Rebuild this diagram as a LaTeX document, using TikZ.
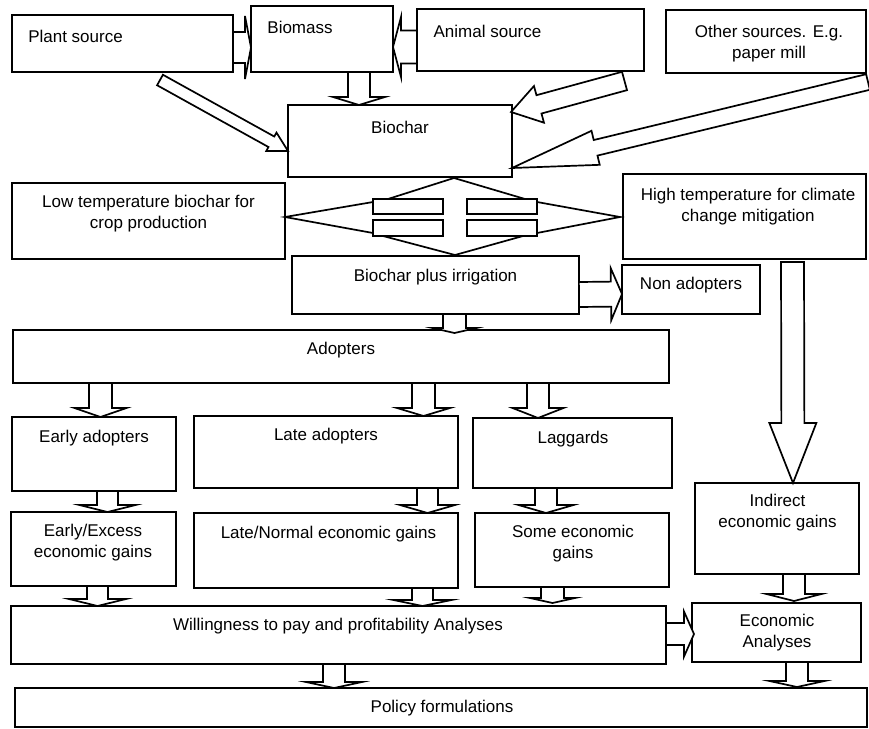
\documentclass[tikz,border=0pt]{standalone}
\usepackage{fontspec}
\setmainfont{Liberation Sans}
\usetikzlibrary{calc,fit}

% hollow block arrow: tail, tip, shaft half width, head half width, head length
\newcommand{\barrow}[5]{%
  \coordinate (btail) at (#1);
  \coordinate (btip) at (#2);
  \path ($(btip)!#5!(btail)$) coordinate (bhead);
  \draw[arr] ($(btail)!#3!90:(btip)$) -- ($(bhead)!#3!90:(btip)$) -- ($(bhead)!#4!90:(btip)$) -- (btip)
    -- ($(bhead)!#4!-90:(btip)$) -- ($(bhead)!#3!-90:(btip)$) -- ($(btail)!#3!-90:(btip)$) -- cycle;}

\begin{document}
\begin{tikzpicture}[x=1pt,y=1pt,yscale=-1,xscale=1,
    box/.style={draw,line width=1.8pt,inner sep=0pt,outer sep=0pt},
    txt/.style={font=\fontsize{17}{21}\selectfont,align=center,inner sep=0pt},
    arr/.style={draw,line width=1.7pt,fill=white,line join=miter}]
    \useasboundingbox (0,0) rectangle (869,728);
    %Boxes, top row
    \node[box,fit={(12,15)(233,72)}] (plant) {};
    \node[box,fit={(251,6)(393,72)}] (biomass) {};
    \node[box,fit={(417,9)(644,71)}] (animal) {};
    \node[box,fit={(666,10)(866,73)}] (other) {};
    \node[box,fit={(288,105)(512,177)}] (biochar) {};
    %Boxes, temperature and irrigation
    \node[box,fit={(12,183)(285,259)}] (lowt) {};
    \node[box,fit={(623,174)(866,259)}] (hight) {};
    \node[box,fit={(292,256)(579,314)}] (bpi) {};
    \node[box,fit={(622,265)(760,314)}] (nonad) {};
    \node[box,fit={(13,330)(669,383)}] (adopt) {};
    %Boxes, adopter groups
    \node[box,fit={(12,417)(176,491)}] (early) {};
    \node[box,fit={(194,416)(458,488)}] (late) {};
    \node[box,fit={(473,418)(672,488)}] (lagg) {};
    \node[box,fit={(11,512)(176,586)}] (eeg) {};
    \node[box,fit={(194,513)(458,588)}] (lng) {};
    \node[box,fit={(475,513)(669,587)}] (seg) {};
    \node[box,fit={(695,483)(859,574)}] (ieg) {};
    %Boxes, analyses
    \node[box,fit={(11,606)(666,664)}] (wtp) {};
    \node[box,fit={(692,603)(861,662)}] (ea) {};
    \node[box,fit={(15,688)(867,727)}] (policy) {};
    % Text Nodes
    \node[txt] (plantL) at (75.5,36) {Plant source};
    \node[txt] (biomassL) at (300,27) {Biomass};
    \node[txt] (animalL) at (487.5,31) {Animal source};
    \node[txt] (otherL) at (769,43.5) {Other sources. E.g.\\paper mill};
    \node[txt] (biocharL) at (400,127) {Biochar};
    \node[txt] (lowtL) at (148.5,213.5) {Low temperature biochar for\\crop production};
    \node[txt] (hightL) at (748,206.5) {High temperature for climate\\change mitigation};
    \node[txt] (bpiL) at (435.5,277) {Biochar plus irrigation};
    \node[txt] (nonadL) at (691,285) {Non adopters};
    \node[txt] (adoptL) at (341,350) {Adopters};
    \node[txt] (earlyL) at (94,438) {Early adopters};
    \node[txt] (lateL) at (326,436) {Late adopters};
    \node[txt] (laggL) at (573,439) {Laggards};
    \node[txt] (eegL) at (93,542.5) {Early/Excess\\economic gains};
    \node[txt] (lngL) at (328.5,534) {Late/Normal economic gains};
    \node[txt] (segL) at (573,543.5) {Some economic\\gains};
    \node[txt] (iegL) at (777.5,513) {Indirect\\economic gains};
    \node[txt] (wtpL) at (338,626) {Willingness to pay and profitability Analyses};
    \node[txt] (eaL) at (777,633) {Economic\\Analyses};
    \node[txt] (policyL) at (442,708) {Policy formulations};
    %Block arrows into Biomass and Biochar
    \barrow{$(plant.east)+(0,4)$}{$(biomass.west)+(0,8.5)$}{15.5pt}{31.5pt}{6pt}
    \barrow{$(animal.west)+(0,7)$}{$(biomass.east)+(0,8)$}{16.5pt}{30pt}{8pt}
    \barrow{$(biomass.south)+(37,0)$}{$(biochar.north)+(-41,0)$}{11pt}{26pt}{8pt}
    \barrow{$(plant.south)+(37.5,8)$}{$(biochar.west)+(0,10)$}{6pt}{10.5pt}{19pt}
    \barrow{$(animal.south)+(94,10)$}{$(biochar.north east)+(-1,7)$}{9.5pt}{19pt}{29pt}
    \barrow{$(other.south east)+(2,9)$}{$(biochar.south east)+(0,-9)$}{8pt}{17.5pt}{86pt}
    %Four way arrow below Biochar
    \draw[arr] (443,199) -- (388,199) -- (454,178) -- (525,199) -- (467,199);
    \draw[arr] (443,236) -- (383,236) -- (455,255) -- (523,236) -- (467,236);
    \draw[arr] (373,214) -- (373,202) -- (285,217) -- (373,233) -- (373,220);
    \draw[arr] (537,214) -- (537,202) -- (620,217) -- (537,233) -- (537,220);
    \draw[arr] (373,199) rectangle (443,214);
    \draw[arr] (373,220) rectangle (443,236);
    \draw[arr] (467,199) rectangle (537,214);
    \draw[arr] (467,220) rectangle (537,236);
    %Block arrows, irrigation and adopters
    \barrow{$(bpi.east)+(0,9.5)$}{$(nonad.west)+(0,4.5)$}{12.5pt}{26pt}{11pt}
    \barrow{$(bpi.south)+(19,0)$}{$(adopt.north)+(113.5,3)$}{11.5pt}{22pt}{5pt}
    \barrow{$(hight.south)+(48,3)$}{$(ieg.north)+(16,0)$}{11.5pt}{23.5pt}{60pt}
    \barrow{$(adopt.south west)+(87.5,0)$}{$(early.north)+(6.5,0)$}{11.5pt}{26pt}{9pt}
    \barrow{$(adopt.south)+(82.5,0)$}{$(late.north)+(97.5,0)$}{11.5pt}{26.5pt}{8pt}
    \barrow{$(adopt.south)+(197,0)$}{$(lagg.north)+(-34.5,0)$}{11pt}{25.5pt}{10pt}
    \barrow{$(early.south)+(13.5,0)$}{$(eeg.north)+(14,0)$}{10.5pt}{28pt}{7pt}
    \barrow{$(late.south)+(101.5,0)$}{$(lng.north)+(101.5,0)$}{10.5pt}{27.5pt}{8pt}
    \barrow{$(lagg.south)+(-26.5,0)$}{$(seg.north)+(-26,0)$}{11pt}{27.5pt}{8pt}
    %Block arrows into the analyses
    \barrow{$(eeg.south)+(4,0)$}{$(wtp.north west)+(86.5,0)$}{10.5pt}{28.5pt}{7pt}
    \barrow{$(lng.south)+(96.5,0)$}{$(wtp.north)+(84,0)$}{10.5pt}{29pt}{6pt}
    \barrow{$(seg.south)+(-19.5,0)$}{$(wtp.north)+(214,-3)$}{11.5pt}{22.5pt}{5pt}
    \barrow{$(ieg.south)+(17,0)$}{$(ea.north)+(17.5,-2)$}{11pt}{27.5pt}{7pt}
    \barrow{$(wtp.east)+(0,-1)$}{$(ea.west)+(2,1.5)$}{11pt}{22.5pt}{10pt}
    \barrow{$(ea.south)+(20.5,0)$}{$(policy.north)+(356,-1)$}{11pt}{27.5pt}{6pt}
    \barrow{$(wtp.south)+(-4.5,0)$}{$(policy.north)+(-107,0)$}{11pt}{28pt}{6pt}
\end{tikzpicture}
\end{document}
